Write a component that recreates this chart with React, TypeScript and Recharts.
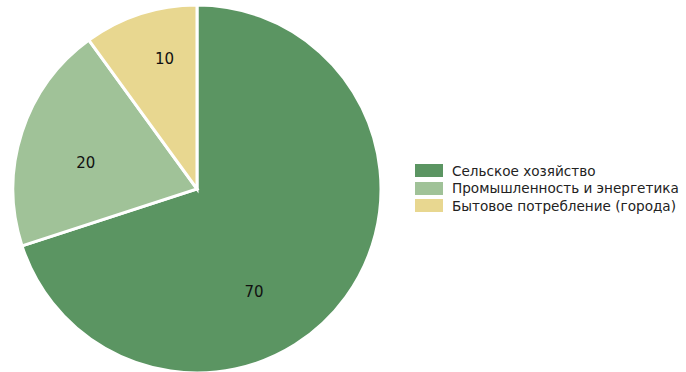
import { PieChart, Pie, Cell, Legend } from 'recharts'

const categories = ['Сельское хозяйство', 'Промышленность и энергетика', 'Бытовое потребление (города)']
const shares = [70, 20, 10]
const colors = ['#5b9562', '#a0c298', '#e8d790']

const data = categories.map((name, i) => ({ name, value: shares[i] }))

const RAD = Math.PI / 180
// label placement tweaks (angle shift in degrees, radius fraction)
const labelShift = [-25, 5, -4]
const labelRadius = [0.64, 0.62, 0.73]

const renderLabel = (props: any) => {
    const { cx, cy, midAngle, outerRadius, index, value } = props
    const a = (midAngle + labelShift[index]) * RAD
    const r = outerRadius * labelRadius[index]
    const x = cx + r * Math.cos(a)
    const y = cy - r * Math.sin(a)
    return (
        <text x={x} y={y} fill="#111" textAnchor="middle" dominantBaseline="central"
            fontSize={15} fontFamily="DejaVu Sans">
            {value}
        </text>
    )
}

const renderLegend = () => (
    <div style={{ fontFamily: 'DejaVu Sans', fontSize: 13.6, color: '#222' }}>
        {data.map((d, i) => (
            <div key={d.name} style={{ display: 'flex', alignItems: 'center', height: 17.5 }}>
                <span style={{ display: 'inline-block', width: 28, height: 13, background: colors[i], marginRight: 9 }} />
                <span>{d.name}</span>
            </div>
        ))}
    </div>
)

export default function App() {
    return (
        <div style={{ position: 'absolute', left: 0, top: 0, width: 686, height: 372, background: '#fff' }}>
            <PieChart width={686} height={372} margin={{ top: 0, right: 0, bottom: 0, left: 0 }}>
                <Pie
                    data={data}
                    dataKey="value"
                    nameKey="name"
                    cx={197}
                    cy={189}
                    outerRadius={184}
                    startAngle={90}
                    endAngle={-270}
                    stroke="#fff"
                    strokeWidth={3}
                    label={renderLabel}
                    labelLine={false}
                    isAnimationActive={false}
                >
                    {data.map((d, i) => (
                        <Cell key={d.name} fill={colors[i]} />
                    ))}
                </Pie>
                <Legend
                    layout="vertical"
                    align="right"
                    verticalAlign="middle"
                    content={renderLegend}
                    wrapperStyle={{ left: 415, top: 162, width: 271 }}
                />
            </PieChart>
        </div>
    )
}
